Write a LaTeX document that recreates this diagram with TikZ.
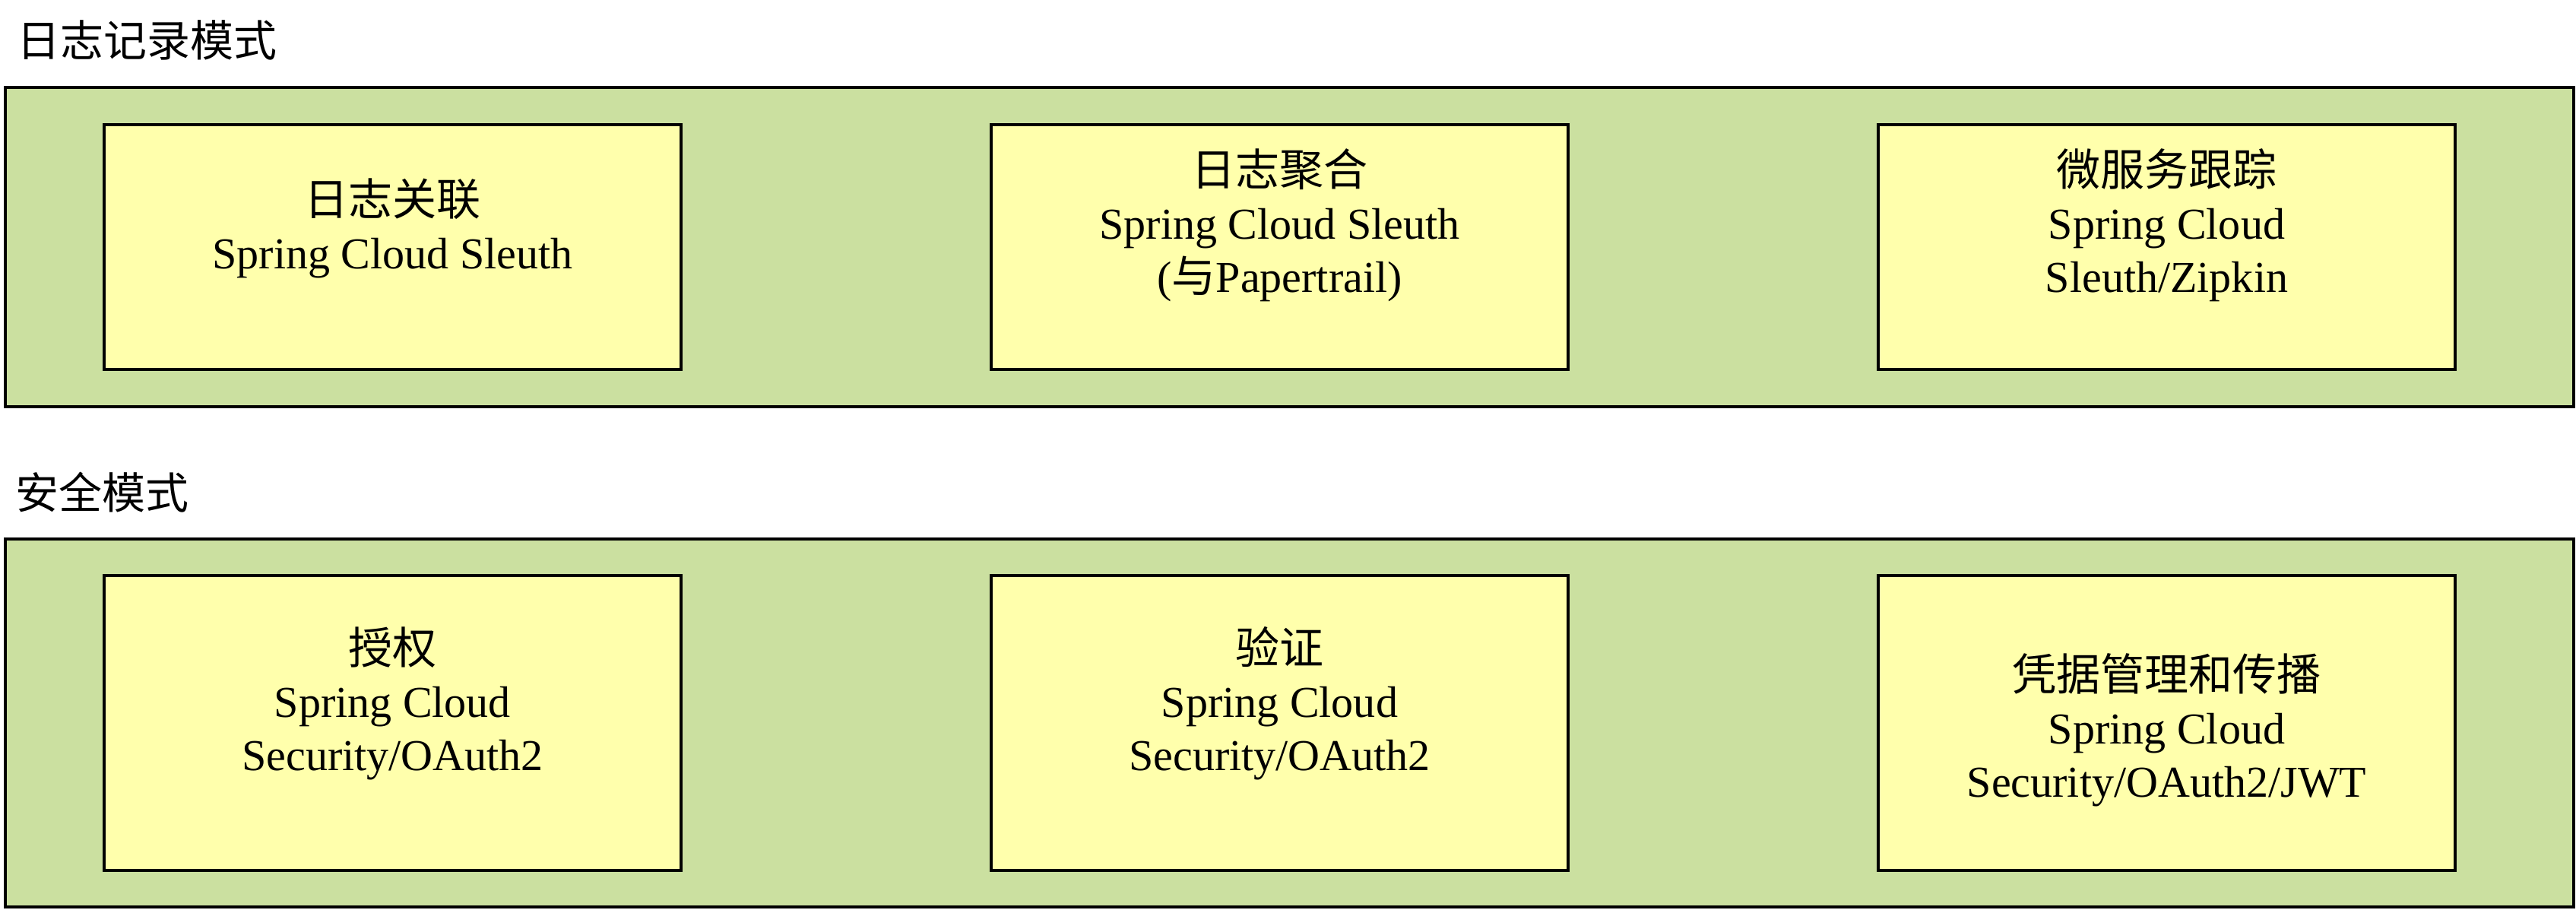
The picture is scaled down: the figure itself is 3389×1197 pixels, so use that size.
\documentclass[tikz,border=0pt]{standalone}
\usepackage{fontspec}
\setmainfont{Liberation Serif}
\newfontfamily\cjk{Noto Sans CJK SC}
\usepackage{tikz}
\usetikzlibrary{positioning}
\definecolor{panelgreen}{RGB}{203,224,160}
\definecolor{boxyellow}{RGB}{255,255,172}
\tikzset{
  panel/.style={draw=black, line width=1.15pt, fill=panelgreen, inner sep=0pt, minimum width=33.77cm},
  patternbox/.style={draw=black, line width=1.15pt, fill=boxyellow, inner sep=0pt, minimum width=7.59cm},
  boxtext/.style={align=center, inner sep=0pt, font=\fontsize{16.5}{19.9}\selectfont},
  rowtitle/.style={anchor=west, inner sep=0pt, font=\fontsize{16.2}{19.9}\selectfont\cjk}
}

\begin{document}
\begin{tikzpicture}[x=0.01cm,y=-0.01cm]
\useasboundingbox (0,0) rectangle (3389,1197);

% logging patterns
\node[rowtitle] (logtitle) at (22,53) {日志记录模式};
\node[panel, minimum height=4.20cm] (logpanel) at (1696.5,325) {};
\node[patternbox, minimum height=3.22cm] (corr) at (516.5,325) {};
\node[patternbox, minimum height=3.22cm] (aggr) at (1683.5,325) {};
\node[patternbox, minimum height=3.22cm] (trace) at (2850.5,325) {};
\node[boxtext] (corrtext) at ([yshift=0.25cm]corr.center) {{\cjk 日志关联}\\Spring Cloud Sleuth};
\node[boxtext] (aggrtext) at ([yshift=0.29cm]aggr.center) {{\cjk 日志聚合}\\Spring Cloud Sleuth\\({\cjk 与}Papertrail)};
\node[boxtext] (tracetext) at ([yshift=0.29cm]trace.center) {{\cjk 微服务跟踪}\\Spring Cloud\\Sleuth/Zipkin};

% security patterns
\node[rowtitle] (sectitle) at (20,648) {安全模式};
\node[panel, minimum height=4.84cm] (secpanel) at (1696.5,951) {};
\node[patternbox, minimum height=3.88cm] (authz) at (516.5,951) {};
\node[patternbox, minimum height=3.88cm] (authn) at (1683.5,951) {};
\node[patternbox, minimum height=3.88cm] (cred) at (2850.5,951) {};
\node[boxtext] (authztext) at ([yshift=0.26cm]authz.center) {{\cjk 授权}\\Spring Cloud\\Security/OAuth2};
\node[boxtext] (authntext) at ([yshift=0.26cm]authn.center) {{\cjk 验证}\\Spring Cloud\\Security/OAuth2};
\node[boxtext] (credtext) at ([yshift=-0.09cm]cred.center) {{\cjk 凭据管理和传播}\\Spring Cloud\\Security/OAuth2/JWT};
\end{tikzpicture}
\end{document}
